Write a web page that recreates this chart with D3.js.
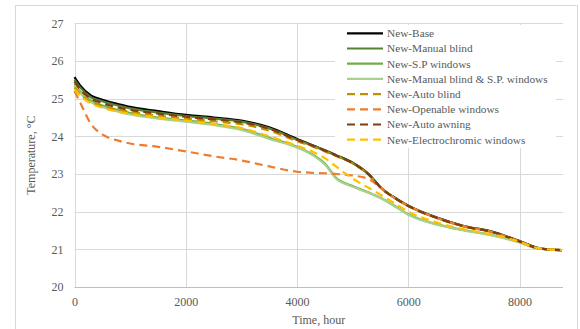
<!DOCTYPE html>
<html><head><meta charset="utf-8">
<script src="https://cdn.jsdelivr.net/npm/d3@7"></script>
<style>body{margin:0;background:#fff}svg{display:block}text{font-family:"Liberation Serif","Times New Roman",serif;fill:#595959}</style>
</head><body><svg id="c" width="580" height="329"></svg>
<script>
const hours = [0,100,300,500,800,1000,1500,2000,2500,3000,3500,4000,4300,4500,4700,5000,5300,5500,5800,6000,6500,7000,7500,8000,8300,8500,8760];
const seriesNames = ["New-Base","New-Manual blind","New-S.P windows","New-Manual blind & S.P. windows","New-Auto blind","New-Openable windows","New-Auto awning","New-Electrochromic windows"];
const base = [25.57,25.35,25.08,24.97,24.85,24.78,24.67,24.57,24.5,24.42,24.24,23.93,23.75,23.63,23.5,23.3,22.98,22.65,22.33,22.16,21.85,21.62,21.47,21.22,21.05,21.0,20.98];
const manualBlind = [25.5,25.3,25.03,24.93,24.81,24.74,24.63,24.54,24.47,24.39,24.21,23.91,23.74,23.62,23.49,23.29,22.97,22.64,22.32,22.15,21.84,21.61,21.46,21.21,21.04,21.0,20.98];
const spWindows = [25.4,25.19,24.94,24.82,24.69,24.62,24.5,24.42,24.33,24.2,23.96,23.72,23.5,23.28,22.9,22.68,22.5,22.37,22.11,21.93,21.67,21.51,21.38,21.19,21.03,21.0,20.98];
const manualBlindSP = [25.35,25.15,24.9,24.78,24.65,24.58,24.47,24.39,24.3,24.17,23.93,23.7,23.48,23.25,22.88,22.66,22.49,22.36,22.1,21.92,21.66,21.5,21.37,21.18,21.03,21.0,20.98];
const autoBlind = [25.3,25.12,24.9,24.8,24.7,24.65,24.55,24.47,24.4,24.32,24.15,23.87,23.72,23.6,23.48,23.28,22.96,22.64,22.32,22.15,21.84,21.61,21.46,21.21,21.04,21.0,20.98];
const openable = [25.2,24.9,24.32,24.05,23.88,23.81,23.72,23.6,23.47,23.36,23.2,23.06,23.03,23.02,23.0,22.96,22.86,22.63,22.32,22.15,21.84,21.61,21.46,21.21,21.04,21.0,20.98];
const autoAwning = [25.45,25.25,25.0,24.88,24.76,24.7,24.6,24.52,24.45,24.37,24.2,23.9,23.74,23.62,23.49,23.29,22.97,22.64,22.32,22.15,21.84,21.61,21.46,21.21,21.04,21.0,20.98];
const electrochromic = [25.25,25.08,24.87,24.76,24.65,24.6,24.5,24.42,24.33,24.22,24.0,23.75,23.58,23.42,23.2,22.88,22.62,22.45,22.18,22.0,21.72,21.53,21.4,21.2,21.04,21.0,20.98];
const xTicks = [0,2000,4000,6000,8000];
const yTicks = [20,21,22,23,24,25,26,27];

const seriesValues = [base,manualBlind,spWindows,manualBlindSP,autoBlind,openable,autoAwning,electrochromic];
const colors = ["#000000","#548235","#70ad47","#a9d18e","#bf9000","#ed7d31","#843c0c","#ffc000"];
const dashed = [false,false,false,false,true,true,true,true];

const svg = d3.select("#c");
svg.append("rect").attr("x",15.5).attr("y",5.5).attr("width",562).attr("height",360).attr("fill","#fff").attr("stroke","#d9d9d9");

const L=74.5, R=563, T=23.3, B=287;
const x = d3.scaleLinear().domain([0,8780]).range([L,R]);
const y = d3.scaleLinear().domain([20,27]).range([B,T]);

const g = svg.append("g");
// gridlines
g.selectAll(".hg").data(yTicks.filter(d=>d>20)).enter().append("line")
 .attr("x1",L).attr("x2",R).attr("y1",d=>Math.round(y(d))+0.5).attr("y2",d=>Math.round(y(d))+0.5)
 .attr("stroke","#d9d9d9").attr("stroke-width",1);
g.selectAll(".vg").data(xTicks).enter().append("line")
 .attr("y1",T).attr("y2",B).attr("x1",d=>Math.round(x(d))+0.5).attr("x2",d=>Math.round(x(d))+0.5)
 .attr("stroke","#d9d9d9").attr("stroke-width",1);
// bottom axis
const xa = g.append("g").attr("transform",`translate(0,${Math.round(B)+0.5})`)
 .call(d3.axisBottom(x).tickValues(xTicks).tickSize(0).tickPadding(10).tickFormat(d3.format("d")));
xa.select(".domain").attr("stroke","#bfbfbf").attr("d",`M${L},0H${R}`);
xa.selectAll("text").attr("font-size",12).style("fill","#595959").attr("dy","0.71em");
const ya = g.append("g").attr("transform",`translate(${L},0)`)
 .call(d3.axisLeft(y).tickValues(yTicks).tickSize(0).tickPadding(11).tickFormat(d3.format("d")));
ya.select(".domain").remove();
ya.selectAll("text").attr("font-size",12).style("fill","#595959");

// lines
const line = d3.line().x((d,i)=>x(hours[i])).y(d=>y(d)).curve(d3.curveMonotoneX);
seriesValues.forEach((vals,k)=>{
  g.append("path").datum(vals).attr("d",line).attr("fill","none")
   .attr("stroke",colors[k]).attr("stroke-width",2.2)
   .attr("stroke-dasharray",dashed[k]?"8,5":null);
});

// legend
const lg = svg.append("g");
lg.append("rect").attr("x",335).attr("y",25).attr("width",221).attr("height",123).attr("fill","#fff");
seriesNames.forEach((n,k)=>{
  const yy = 33.3 + k*15.2;
  lg.append("line").attr("x1",347).attr("x2",383).attr("y1",yy).attr("y2",yy)
    .attr("stroke",colors[k]).attr("stroke-width",2.2).attr("stroke-dasharray",dashed[k]?"8,5":null);
  lg.append("text").attr("x",387).attr("y",yy).attr("dy","0.35em").attr("font-size",11.3).text(n);
});

// axis titles
svg.append("text").attr("x",(L+R)/2).attr("y",324).attr("text-anchor","middle").attr("font-size",12).text("Time, hour");
svg.append("text").attr("transform",`translate(35,${(T+B)/2}) rotate(-90)`).attr("text-anchor","middle").attr("font-size",12).text("Temperature, °C");
</script></body></html>
